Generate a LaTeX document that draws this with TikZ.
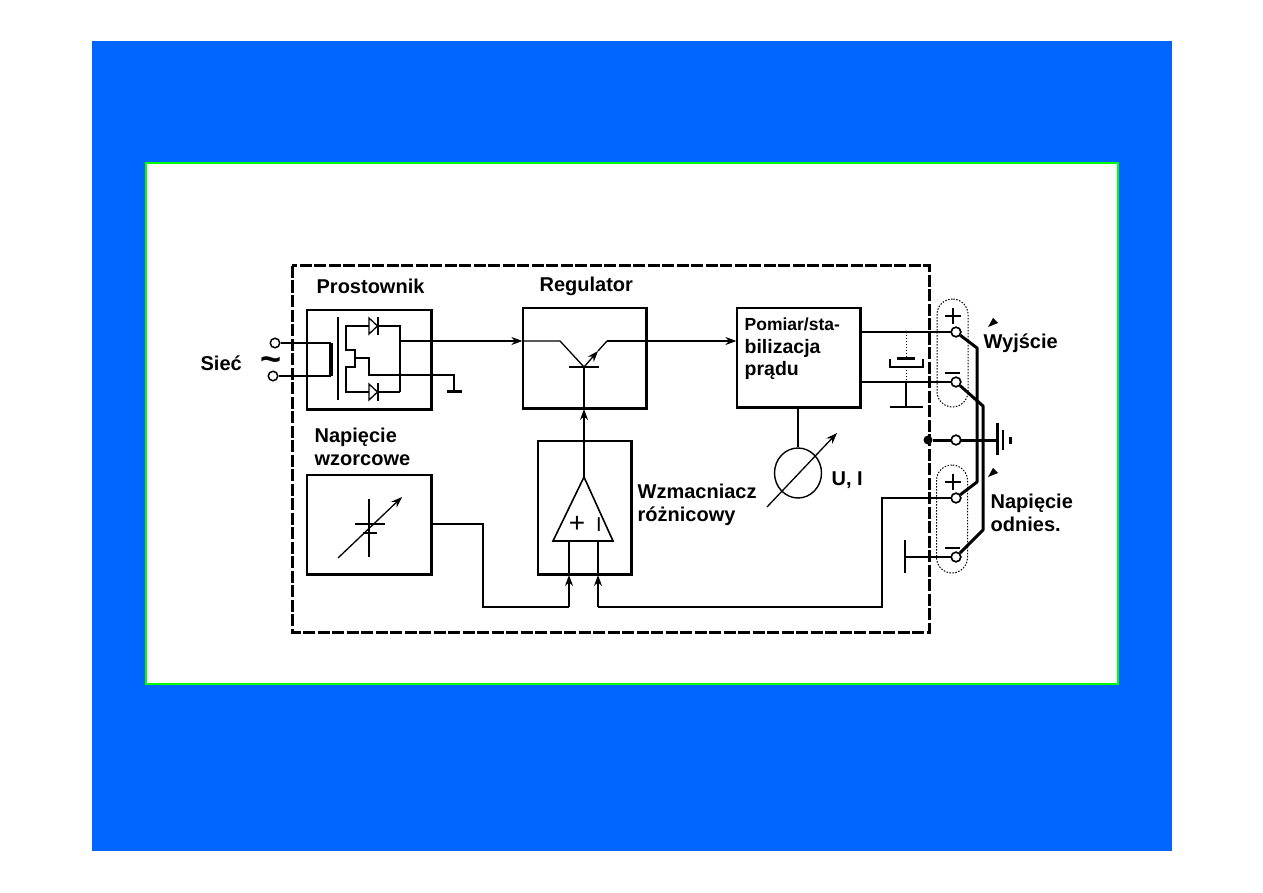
\documentclass[tikz,border=0pt]{standalone}
\usepackage{fontspec}
\setmainfont{Liberation Sans}
\usetikzlibrary{arrows.meta,shapes.geometric}
\definecolor{tlo}{RGB}{0,102,255}
\definecolor{ramka}{RGB}{0,255,0}
\tikzset{
    blok/.style={draw,line width=1.3pt,inner sep=0pt},
    napis/.style={font=\fontsize{20}{23}\selectfont\bfseries,inner sep=0pt,align=left},
    zacisk/.style={circle,draw,fill=white,line width=1.5pt,inner sep=0pt,minimum size=9.5pt},
    punkt/.style={circle,fill=black,inner sep=0pt,minimum size=#1},
    cienka/.style={line width=1.3pt},
    gruba/.style={line width=3pt},
    kropki/.style={draw,line width=1pt,dash pattern=on 1.5pt off 1.5pt,rounded corners=15.5pt,minimum width=31pt,inner sep=0pt}
}
\begin{document}
\begin{tikzpicture}[x=1pt,y=-1pt,>={Stealth[length=11pt,width=8pt]},cienka]

    % tlo
    \useasboundingbox (0,0) rectangle (1263,893);
    \fill[white] (0,0) rectangle (1263,893);
    \fill[tlo] (92,41) rectangle (1172,851);
    \draw[line width=2pt,draw=ramka,fill=white] (146,163) rectangle (1118,684);

    % --- obudowa ---
    \draw[gruba,dash pattern=on 12pt off 2.5pt] (292,266) rectangle (929,632);

    % --- bloki ---
    \node[blok,minimum width=124pt,minimum height=99pt] (prostownik) at (369,359.5) {};
    \node[blok,minimum width=123pt,minimum height=100pt] (regulator) at (584.5,358) {};
    \node[blok,minimum width=123pt,minimum height=99pt] (pomiar) at (798.5,357.5) {};
    \node[blok,minimum width=124pt,minimum height=99pt] (wzorzec) at (369,524.5) {};
    \node[blok,minimum width=93pt,minimum height=133pt] (wzmacniacz) at (584.5,507.5) {};

    % prawe i dolne krawedzie
    \foreach \b in {prostownik,regulator,wzorzec,wzmacniacz} {%
        \draw[gruba] (\b.north east) -- (\b.south east) -- (\b.south west);
    }
    \draw[line width=2.2pt] (pomiar.south west) -- (pomiar.south east) -- (pomiar.north east);

    % --- napisy ---
    \node[napis,anchor=west] (tProstownik) at (316,286) {Prostownik};
    \node[napis,anchor=west] (tRegulator) at (539,286) {Regulator};
    \node[napis,anchor=west,font=\fontsize{19.5}{22.5}\selectfont\bfseries] (tPomiar) at (744,349) {\fontsize{17.5}{22.5}\selectfont Pomiar/sta-\\bilizacja\\prądu};
    \node[napis,anchor=west] (tSiec) at (200,363) {Sieć};
    \node[napis,anchor=west] (tWzorzec) at (314,447) {Napięcie\\wzorcowe};
    \node[napis,anchor=west] (tWzm) at (637,505) {Wzmacniacz\\różnicowy};
    \node[napis,anchor=west] (tUI) at (831,480) {U, I};
    \node[napis,anchor=west] (tWyjscie) at (983,343) {Wyjście};
    \node[napis,anchor=west] (tOdnies) at (990,513) {Napięcie\\odnies.};
    \node[font=\fontsize{36}{36}\selectfont\bfseries,inner sep=0pt] (tFala) at (271,364) {\textasciitilde};

    % --- prostownik ---
    \node[zacisk] (we1) at (275,343) {};
    \node[zacisk] (we2) at (273,376) {};
    \coordinate (pier1) at (331,343);
    \coordinate (pier2) at (331,376);
    \draw (we1) -- (pier1);
    \draw (we2) -- (pier2);
    \draw[line width=3.5pt] (pier1) -- (pier2);
    \coordinate (rdzen1) at (338,317);
    \coordinate (rdzen2) at (338,400);
    \draw (rdzen1) -- (rdzen2);

    \coordinate (mostL1) at (346,326);
    \coordinate (mostP1) at (400,326);
    \coordinate (mostL2) at (346,392);
    \coordinate (mostP2) at (400,392);
    \draw (mostP2) -- (mostP1) -- (mostL1) -- (346,350) -- (355,350) -- (355,367) -- (346,367) -- (mostL2) -- (mostP2);

    % diody
    \foreach \y in {326,392} {%
        \fill[white] (369,\y-8) rectangle (378,\y+8);
        \draw (369,\y-8) -- (369,\y+8) -- (377.5,\y) -- cycle;
        \draw[line width=1.6pt] (378,\y-9) -- (378,\y+9);
    }

    % wyjscie i masa
    \coordinate (wyjP) at (400,341);
    \coordinate (zaczep) at (355,358);
    \coordinate (masaP) at (454,391);
    \draw (zaczep) -- (369,358) -- (369,375) -- (454,375) -- (masaP);
    \draw[gruba] (447,391.5) -- (462,391.5);

    % --- regulator ---
    \coordinate (baza) at (584,367);
    \coordinate (kolektor) at (560,341);
    \coordinate (emiter) at (607,341);
    \coordinate (strzalka) at (598,351);
    \coordinate (wePomiar) at (pomiar.west |- emiter);
    \coordinate (weReg) at (regulator.west |- kolektor);
    \draw[->] (wyjP) -- (weReg);
    \draw (weReg) -- (kolektor) -- (baza);
    \draw[->] (baza) -- (strzalka);
    \draw (strzalka) -- (emiter);
    \draw[->] (emiter) -- (wePomiar);
    \draw[line width=1.6pt] (569,367) -- (599,367);

    % --- wzmacniacz ---
    \coordinate (szczyt) at (584,477);
    \coordinate (plusWe) at (569,541);
    \coordinate (minusWe) at (598,541);
    \draw[line width=1.6pt] (szczyt) -- (613,541) -- (553,541) -- cycle;
    \draw[->] (szczyt) -- (584,409);
    \draw (584,409) -- (baza);
    \node[font=\fontsize{28}{28}\selectfont,inner sep=0pt] (plusO) at (577,524) {+};
    \node[font=\fontsize{20}{20}\selectfont,inner sep=0pt] (minusO) at (599,525) {I};
    \coordinate (dolPlus) at (569,607);
    \coordinate (dolMinus) at (598,607);
    \coordinate (wejPlus) at (569,575);
    \coordinate (wejMinus) at (598,575);
    \draw (plusWe) -- (wejPlus);
    \draw (minusWe) -- (wejMinus);
    \draw[->] (dolPlus) -- (wejPlus);
    \draw[->] (dolMinus) -- (wejMinus);

    % --- napiecie wzorcowe ---
    \coordinate (wyjWz) at (wzorzec.east |- 0,524);
    \draw (wyjWz) -- (483,524) -- (483,607) -- (dolPlus);
    \draw (369,499) -- (369,557);
    \draw (355,524) -- (385,524);
    \draw[line width=2.4pt] (363,533) -- (377,533);
    \coordinate (regWz1) at (338,558);
    \coordinate (regWz2) at (402,497);
    \draw[->] (regWz1) -- (regWz2);

    % --- miernik ---
    \node[draw,ellipse,line width=1.4pt,minimum width=47pt,minimum height=50pt,inner sep=0pt] (miernik) at (798,473) {};
    \draw (pomiar.south -| miernik.north) -- (miernik.north);
    \coordinate (mier1) at (767,507);
    \coordinate (mier2) at (837,433);
    \draw[->] (mier1) -- (mier2);

    % --- zaciski ---
    \node[kropki,minimum height=108pt] (owal1) at (952.5,353) {};
    \node[kropki,minimum height=108pt] (owal2) at (952,519) {};

    \coordinate (kon1) at (906,332);
    \coordinate (kon2) at (906,382);
    \coordinate (uklad1) at (977,348);
    \coordinate (uklad2) at (977,482);
    \coordinate (uklad3) at (983,406);
    \coordinate (uklad4) at (983,530);
    \node[zacisk] (wyjP1) at (956,332) {};
    \node[zacisk] (wyjM1) at (956,382) {};
    \node[zacisk] (ziemia) at (956,440) {};
    \node[zacisk] (odnP) at (956,498) {};
    \node[zacisk] (odnM) at (956,557) {};

    \draw (pomiar.east |- wyjP1) -- (wyjP1);
    \draw (pomiar.east |- wyjM1) -- (wyjM1);
    \draw (dolMinus) -- (882,607) -- (882,498) -- (odnP);
    \draw (905,557) -- (odnM);
    \draw[line width=2pt] (905,540) -- (905,573);

    % kondensator wyjsciowy
    \draw[line width=1pt,dotted] (kon1) -- (906,358);
    \draw[line width=1pt,dotted] (906,367) -- (kon2);
    \draw (kon2) -- (906,407);
    \draw[gruba] (897,358) -- (915,358);
    \draw (890,359) -- (890,367) -- (923,367) -- (923,359);
    \draw[line width=2pt] (890,407) -- (923,407);
    \node[punkt=3pt] (wezel1) at (kon1) {};
    \node[punkt=3pt] (wezel2) at (kon2) {};

    % grube polaczenia
    \draw[gruba,line join=round] (wyjP1) -- (uklad1) -- (uklad2) -- (odnP);
    \draw[gruba,line join=round] (wyjM1) -- (uklad3) -- (uklad4) -- (odnM);
    \node[punkt=9pt] (wezel3) at (928,440) {};
    \coordinate (uziom) at (997,440);
    \draw[gruba] (wezel3) -- (uziom);
    \draw[gruba] (997,423) -- (997,455);
    \draw[line width=2pt] (1003,430) -- (1003,450);
    \draw[line width=3pt] (1010,437) -- (1010,444);
    \foreach \z in {wyjP1,wyjM1,ziemia,odnP,odnM} {%
        \node[zacisk] at (\z) {};
    }

    % plusy i minusy
    \foreach \y in {316,482} {%
        \draw (953,\y-8) -- (953,\y+8);
        \draw (945,\y) -- (961,\y);
    }
    \foreach \y in {373,548} {%
        \draw (945,\y) -- (960,\y);
    }

    % znaczki
    \fill (988,327) -- (993,318) -- (998,323) -- cycle;
    \fill (988,477) -- (993,468) -- (998,473) -- cycle;
\end{tikzpicture}
\end{document}
